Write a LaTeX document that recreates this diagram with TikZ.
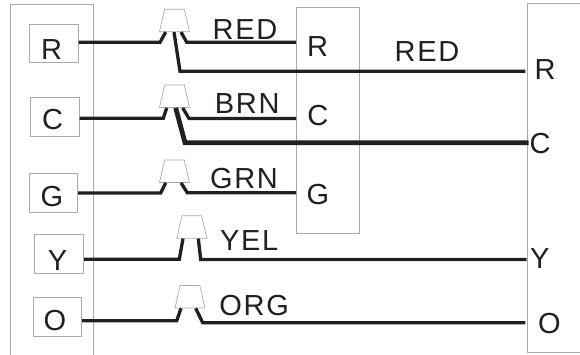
\documentclass[tikz,border=0pt]{standalone}
\usepackage{fontspec}
\setmainfont{Liberation Sans}
\newfontfamily\wirefont[LetterSpace=6]{Liberation Sans}
\usetikzlibrary{shapes.geometric}
\definecolor{ink}{HTML}{231F20}
\definecolor{edge}{HTML}{ABABAB}
\tikzset{
  frame/.style={draw=edge,line width=1pt},
  termbox/.style={draw=edge,line width=1pt,fill=white,rectangle,inner sep=0pt},
  tap/.style={draw=edge,line width=0.7pt,fill=white,trapezium,trapezium angle=76,trapezium stretches=true,inner sep=0pt,minimum width=30pt,minimum height=22.5pt},
  wire/.style={draw=ink,line width=3.3pt,miter limit=4},
  thickwire/.style={draw=ink,line width=4.8pt},
  term/.style={font=\fontsize{29}{29}\selectfont,text=ink,anchor=base,inner sep=0pt},
  wname/.style={font=\fontsize{29}{29}\selectfont\wirefont,text=ink,anchor=base,inner sep=0pt}
}
\begin{document}
\begin{tikzpicture}[x=1pt,y=-1pt]
\useasboundingbox (0,0) rectangle (580,355);
% frames
\draw[frame] (10.5,355) -- (10.5,4.5) -- (93.5,4.5) -- (93.5,355);
\draw[frame] (580,3.5) -- (527.5,3.5) -- (527.5,352.7) -- (580,352.7);
\node[draw=edge,line width=1pt,rectangle,inner sep=0pt,minimum width=63.2pt,minimum height=225.5pt] (mid) at (328.1,120.3) {};
% terminal boxes
\node[termbox,minimum width=48.5pt,minimum height=38.5pt] (bR) at (53.8,43.3) {};
\node[termbox,minimum width=48.5pt,minimum height=39pt] (bC) at (54.8,117.5) {};
\node[termbox,minimum width=48pt,minimum height=39pt] (bG) at (53.5,193.5) {};
\node[termbox,minimum width=49pt,minimum height=38.5pt] (bY) at (59,253.8) {};
\node[termbox,minimum width=48pt,minimum height=39pt] (bO) at (57.5,316.5) {};
% connectors
\coordinate (eR) at (525.3,71.3);
\coordinate (eC) at (528.7,142.7);
\coordinate (eY) at (526.7,259.5);
\coordinate (eO) at (525.3,322.7);
\node[tap] (t1) at (174.5,20.5) {\phantom{x}};
\node[tap] (t2) at (174.5,96.3) {\phantom{x}};
\node[tap] (t3) at (174.5,171.2) {\phantom{x}};
\node[tap] (t4) at (191.8,227) {\phantom{x}};
\node[tap] (t5) at (190,296.7) {\phantom{x}};
\draw[wire] (bR.east |- 0,42.3) -- (160,42.3) -- ([xshift=-8.8pt]t1.south);
\draw[wire] ([xshift=6.5pt]t1.south) -- (186.7,42.3) -- (mid.west |- 0,42.3);
\draw[wire] ([xshift=-0.5pt]t1.south) -- (180,71.3) -- (eR);
\draw[wire] (bC.east |- 0,118.3) -- (163.3,118.3) -- ([xshift=-7.8pt]t2.south);
\draw[wire] ([xshift=8.2pt]t2.south) -- (189,118.5) -- (mid.west |- 0,118.5);
\draw[thickwire] ([xshift=1.2pt]t2.south) -- (185,142.7) -- (eC);
\draw[wire] (bG.east |- 0,193) -- (160.7,193) -- ([xshift=-8.8pt]t3.south);
\draw[wire] ([xshift=6.5pt]t3.south) -- (187.3,192.7) -- (mid.west |- 0,192.7);
\draw[wire] (bY.east |- 0,259.3) -- (179.3,259.3) -- ([xshift=-8.8pt]t4.south);
\draw[wire] ([xshift=6.5pt]t4.south) -- (200.7,259.5) -- (eY);
\draw[wire] (bO.east |- 0,320.7) -- (176.7,320.7) -- ([xshift=-9pt]t5.south);
\draw[wire] ([xshift=5.7pt]t5.south) -- (202.7,322.7) -- (eO);
% left terminal letters
\node[term] (lR) at (51.7,59.8) {R};
\node[term] (lC) at (52.5,130) {C};
\node[term] (lG) at (52,206.7) {G};
\node[term] (lY) at (57.5,270) {Y};
\node[term] (lO) at (55,330) {O};
% middle letters
\node[term] (mR) at (317.5,56.7) {R};
\node[term] (mC) at (317.8,126) {C};
\node[term] (mG) at (318,205) {G};
% right letters
\node[term] (rR) at (545,79.3) {R};
\node[term] (rC) at (540,154) {C};
\node[term] (rY) at (539.7,268.3) {Y};
\node[term] (rO) at (549.3,333.7) {O};
% wire names
\node[wname] (n1) at (245,40) {RED};
\node[wname] (n2) at (247.2,113.3) {BRN};
\node[wname] (n3) at (244,188.3) {GRN};
\node[wname] (n4) at (249.2,250.7) {YEL};
\node[wname] (n5) at (254.2,315.7) {ORG};
\node[wname] (n6) at (427,62) {RED};
\end{tikzpicture}
\end{document}
